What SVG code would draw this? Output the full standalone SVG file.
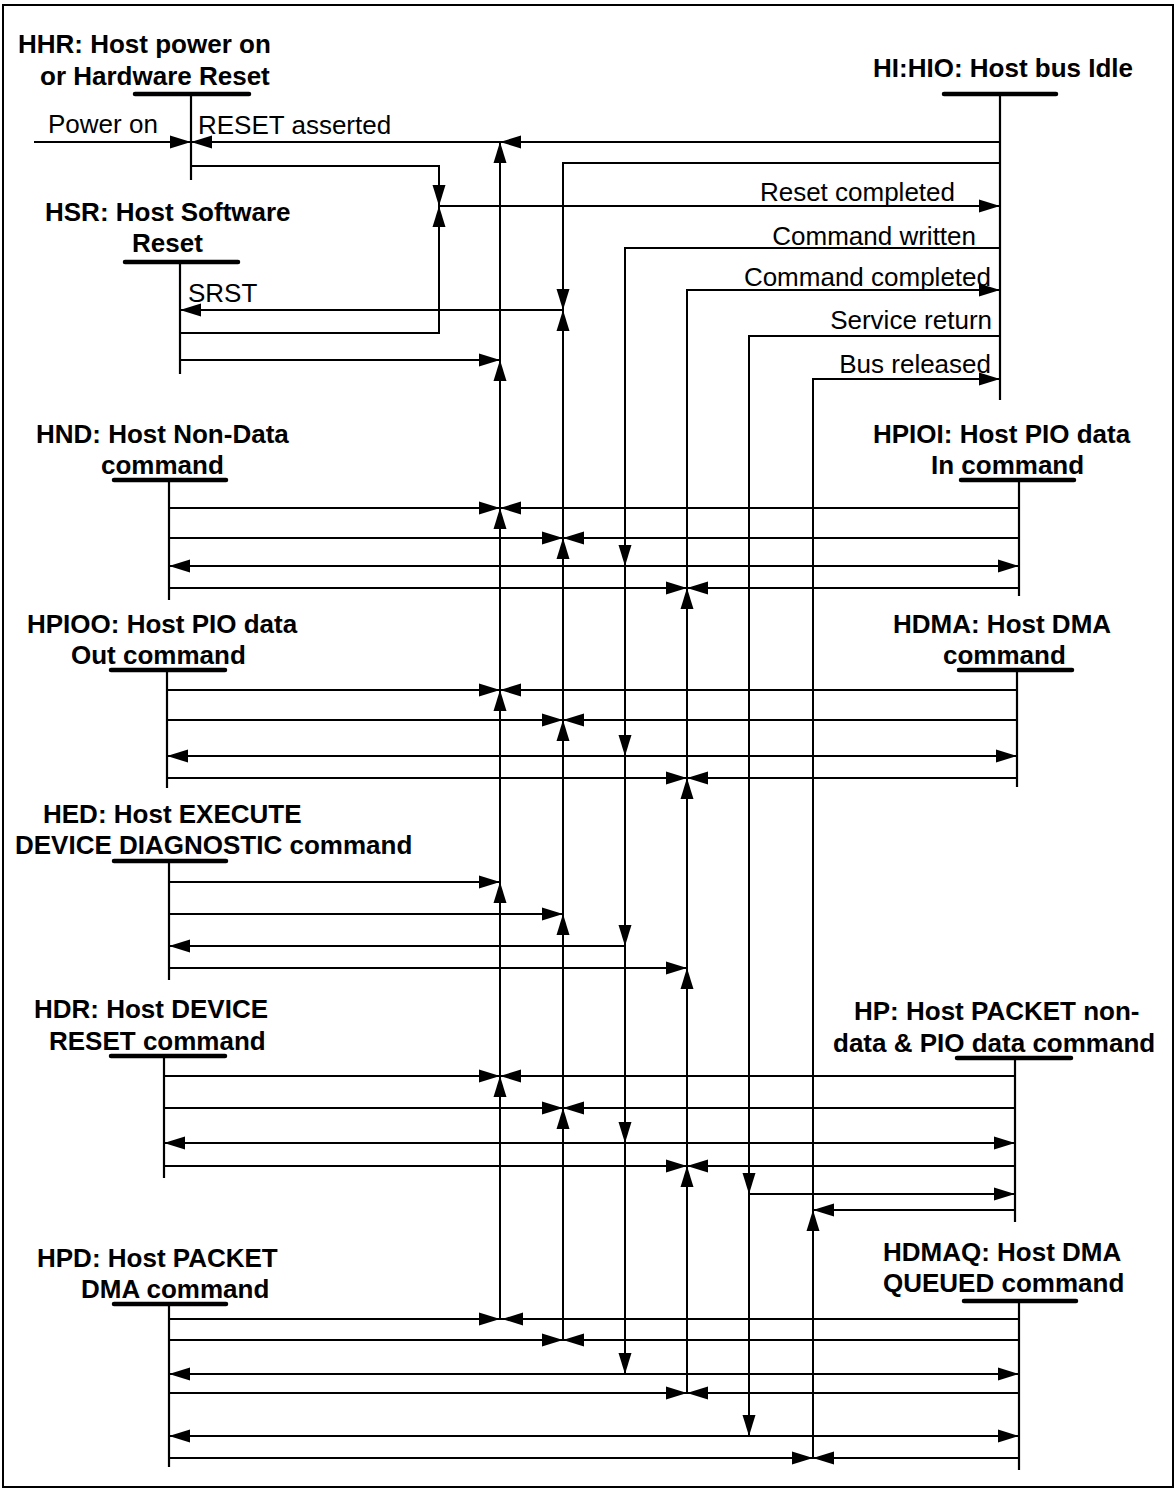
<svg xmlns="http://www.w3.org/2000/svg" width="1176" height="1490" viewBox="0 0 1176 1490">
<style>
.ln{fill:none;stroke:#000;stroke-width:2}
.life{fill:none;stroke:#000;stroke-width:2.2}
.bar{fill:none;stroke:#000;stroke-width:4.5;stroke-linecap:round}
.t{font-family:"Liberation Sans",Arial,Helvetica,sans-serif;font-size:26px;fill:#000}
.b{font-weight:bold}
.e{text-anchor:end}
</style>
<defs>
<path id="ar" d="M0,0 L-21,-6.5 L-21,6.5 Z" fill="#000"/>
<path id="al" d="M0,0 L21,-6.5 L21,6.5 Z" fill="#000"/>
<path id="au" d="M0,0 L-6.5,21 L6.5,21 Z" fill="#000"/>
<path id="ad" d="M0,0 L-6.5,-21 L6.5,-21 Z" fill="#000"/>
</defs>
<rect x="3" y="5" width="1170" height="1482" fill="#fff" stroke="#000" stroke-width="2"/>

<g id="HHR">
<line class="bar" x1="135" y1="94" x2="249" y2="94"/>
<line class="life" x1="191" y1="94" x2="191" y2="180"/>
<text class="t b" x="18" y="53">HHR: Host power on</text>
<text class="t b" x="40" y="85">or Hardware Reset</text>
</g>
<g id="HSR">
<line class="bar" x1="125" y1="262" x2="238" y2="262"/>
<line class="life" x1="180" y1="262" x2="180" y2="374"/>
<text class="t b" x="45" y="221">HSR: Host Software</text>
<text class="t b" x="132" y="252">Reset</text>
</g>
<g id="HI">
<line class="bar" x1="944" y1="94" x2="1056" y2="94"/>
<line class="life" x1="1000" y1="94" x2="1000" y2="400"/>
<text class="t b" x="873" y="77">HI:HIO: Host bus Idle</text>
</g>
<g id="HND">
<line class="bar" x1="114" y1="480" x2="226" y2="480"/>
<line class="life" x1="169" y1="480" x2="169" y2="600"/>
<text class="t b" x="36" y="443">HND: Host Non-Data</text>
<text class="t b" x="101" y="474">command</text>
</g>
<g id="HPIOI">
<line class="bar" x1="961" y1="480" x2="1074" y2="480"/>
<line class="life" x1="1019" y1="480" x2="1019" y2="596"/>
<text class="t b" x="873" y="443">HPIOI: Host PIO data</text>
<text class="t b" x="931" y="474">In command</text>
</g>
<g id="HPIOO">
<line class="bar" x1="111" y1="670" x2="225" y2="670"/>
<line class="life" x1="167" y1="670" x2="167" y2="788"/>
<text class="t b" x="27" y="633">HPIOO: Host PIO data</text>
<text class="t b" x="71" y="664">Out command</text>
</g>
<g id="HDMA">
<line class="bar" x1="959" y1="670" x2="1072" y2="670"/>
<line class="life" x1="1017" y1="670" x2="1017" y2="787"/>
<text class="t b" x="893" y="633">HDMA: Host DMA</text>
<text class="t b" x="943" y="664">command</text>
</g>
<g id="HED">
<line class="bar" x1="114" y1="861" x2="226" y2="861"/>
<line class="life" x1="169" y1="861" x2="169" y2="980"/>
<text class="t b" x="43" y="823">HED: Host EXECUTE</text>
<text class="t b" x="15" y="854">DEVICE DIAGNOSTIC command</text>
</g>
<g id="HDR">
<line class="bar" x1="111" y1="1056" x2="225" y2="1056"/>
<line class="life" x1="164" y1="1056" x2="164" y2="1178"/>
<text class="t b" x="34" y="1018">HDR: Host DEVICE</text>
<text class="t b" x="49" y="1050">RESET command</text>
</g>
<g id="HP">
<line class="bar" x1="957" y1="1058" x2="1071" y2="1058"/>
<line class="life" x1="1015" y1="1058" x2="1015" y2="1222"/>
<text class="t b" x="854" y="1020">HP: Host PACKET non-</text>
<text class="t b" x="833" y="1052">data &amp; PIO data command</text>
</g>
<g id="HPD">
<line class="bar" x1="114" y1="1304" x2="226" y2="1304"/>
<line class="life" x1="169" y1="1304" x2="169" y2="1467"/>
<text class="t b" x="37" y="1267">HPD: Host PACKET</text>
<text class="t b" x="81" y="1298">DMA command</text>
</g>
<g id="HDMAQ">
<line class="bar" x1="964" y1="1301" x2="1076" y2="1301"/>
<line class="life" x1="1019" y1="1301" x2="1019" y2="1470"/>
<text class="t b" x="883" y="1261">HDMAQ: Host DMA</text>
<text class="t b" x="883" y="1292">QUEUED command</text>
</g>

<g id="connectors">
<path class="ln" d="M34,142 H191"/>
<path class="ln" d="M1000,142 H191"/>
<path class="ln" d="M191,166 H439 V206"/>
<path class="ln" d="M180,333 H439 V206"/>
<path class="ln" d="M439,206 H1000"/>
<path class="ln" d="M1000,163 H563 V310"/>
<path class="ln" d="M563,310 H180"/>
<path class="ln" d="M180,360 H500"/>
<path class="ln" d="M500,1319 V142"/>
<path class="ln" d="M563,1340 V310"/>
<path class="ln" d="M1000,248 H625 V1374"/>
<path class="ln" d="M687,1393 V290 H1000"/>
<path class="ln" d="M1000,336 H749 V1436"/>
<path class="ln" d="M813,1458 V379 H1000"/>
<path class="ln" d="M169,508 H1019 M169,538 H1019 M169,566 H1019 M169,588 H1019"/>
<path class="ln" d="M167,690 H1017 M167,720 H1017 M167,756 H1017 M167,778 H1017"/>
<path class="ln" d="M169,882 H500 M169,914 H563 M169,946 H625 M169,968 H687"/>
<path class="ln" d="M164,1076 H1015 M164,1108 H1015 M164,1143 H1015 M164,1166 H1015 M749,1194 H1015 M813,1210 H1015"/>
<path class="ln" d="M169,1319 H1019 M169,1340 H1019 M169,1374 H1019 M169,1393 H1019 M169,1436 H1019 M169,1458 H1019"/>

<use href="#ar" x="191" y="142"/>
<use href="#al" x="191" y="142"/>
<use href="#al" x="500" y="142"/>
<use href="#ad" x="439" y="206"/>
<use href="#au" x="439" y="206"/>
<use href="#ar" x="1000" y="206"/>
<use href="#ad" x="563" y="310"/>
<use href="#au" x="563" y="310"/>
<use href="#al" x="180" y="310"/>
<use href="#ar" x="500" y="360"/>
<use href="#ar" x="1000" y="290"/>
<use href="#ar" x="1000" y="379"/>

<use href="#au" x="500" y="142"/>
<use href="#au" x="500" y="360"/>
<use href="#au" x="500" y="508"/>
<use href="#au" x="500" y="690"/>
<use href="#au" x="500" y="882"/>
<use href="#au" x="500" y="1076"/>
<use href="#au" x="563" y="538"/>
<use href="#au" x="563" y="720"/>
<use href="#au" x="563" y="914"/>
<use href="#au" x="563" y="1108"/>
<use href="#ad" x="625" y="566"/>
<use href="#ad" x="625" y="756"/>
<use href="#ad" x="625" y="946"/>
<use href="#ad" x="625" y="1143"/>
<use href="#ad" x="625" y="1374"/>
<use href="#au" x="687" y="588"/>
<use href="#au" x="687" y="778"/>
<use href="#au" x="687" y="968"/>
<use href="#au" x="687" y="1166"/>
<use href="#ad" x="749" y="1194"/>
<use href="#ad" x="749" y="1436"/>
<use href="#au" x="813" y="1210"/>

<use href="#ar" x="500" y="508"/><use href="#al" x="500" y="508"/>
<use href="#ar" x="563" y="538"/><use href="#al" x="563" y="538"/>
<use href="#al" x="169" y="566"/><use href="#ar" x="1019" y="566"/>
<use href="#ar" x="687" y="588"/><use href="#al" x="687" y="588"/>

<use href="#ar" x="500" y="690"/><use href="#al" x="500" y="690"/>
<use href="#ar" x="563" y="720"/><use href="#al" x="563" y="720"/>
<use href="#al" x="167" y="756"/><use href="#ar" x="1017" y="756"/>
<use href="#ar" x="687" y="778"/><use href="#al" x="687" y="778"/>

<use href="#ar" x="500" y="882"/>
<use href="#ar" x="563" y="914"/>
<use href="#al" x="169" y="946"/>
<use href="#ar" x="687" y="968"/>

<use href="#ar" x="500" y="1076"/><use href="#al" x="500" y="1076"/>
<use href="#ar" x="563" y="1108"/><use href="#al" x="563" y="1108"/>
<use href="#al" x="164" y="1143"/><use href="#ar" x="1015" y="1143"/>
<use href="#ar" x="687" y="1166"/><use href="#al" x="687" y="1166"/>
<use href="#ar" x="1015" y="1194"/>
<use href="#al" x="813" y="1210"/>

<use href="#ar" x="500" y="1319"/><use href="#al" x="502" y="1319"/>
<use href="#ar" x="563" y="1340"/><use href="#al" x="563" y="1340"/>
<use href="#al" x="169" y="1374"/><use href="#ar" x="1019" y="1374"/>
<use href="#ar" x="687" y="1393"/><use href="#al" x="687" y="1393"/>
<use href="#al" x="169" y="1436"/><use href="#ar" x="1019" y="1436"/>
<use href="#ar" x="813" y="1458"/><use href="#al" x="813" y="1458"/>

<text class="t" x="48" y="133">Power on</text>
<text class="t" x="198" y="134">RESET asserted</text>
<text class="t" x="188" y="302">SRST</text>
<text class="t e" x="955" y="201">Reset completed</text>
<text class="t e" x="976" y="245">Command written</text>
<text class="t e" x="991" y="286">Command completed</text>
<text class="t e" x="992" y="329">Service return</text>
<text class="t e" x="991" y="373">Bus released</text>
</g>
</svg>
